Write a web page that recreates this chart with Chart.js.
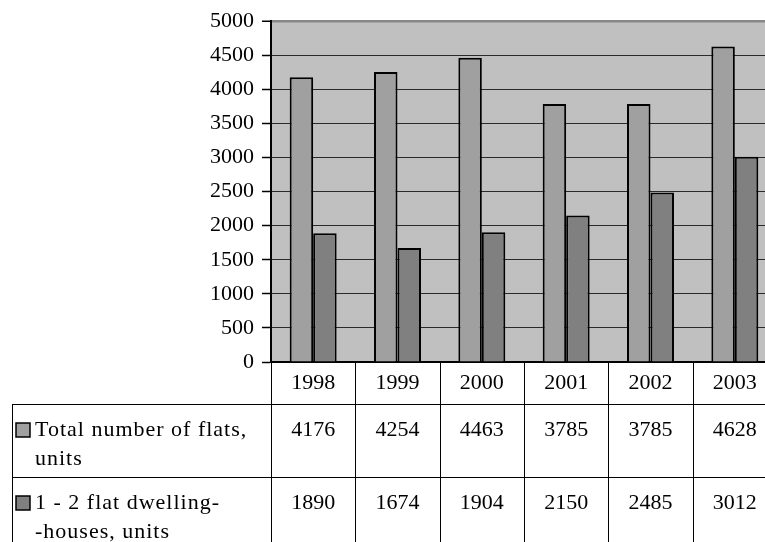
<!DOCTYPE html>
<html>
<head>
<meta charset="utf-8">
<script src="https://cdn.jsdelivr.net/npm/chart.js@4.4.0/dist/chart.umd.min.js"></script>
<style>
  body { margin: 0; background: #fff; overflow: hidden; }
  #wrap { width: 780px; height: 542px; }
</style>
</head>
<body>
<div id="wrap"><canvas id="chart" width="780" height="542"></canvas></div>
<script>
// data
const years = ['1998', '1999', '2000', '2001', '2002', '2003'];
const totalFlats = [4176, 4254, 4463, 3785, 3785, 4628];
const dwellingHouses = [1890, 1674, 1904, 2150, 2485, 3012];
const seriesNames = [['Total number of flats,', 'units'], ['1 - 2 flat dwelling-', '-houses, units']];
const yMax = 5000;
const yStep = 500;

const barColors = ['#a0a0a0', '#808080'];
const fontFamily = "'Liberation Serif', 'Times New Roman', serif";
const fontSize = 22;

// grey plot area
const plotBg = {
    id: 'plotBg',
    beforeDraw(chart) {
        const { ctx, chartArea: a } = chart;
        ctx.save();
        ctx.fillStyle = '#c0c0c0';
        ctx.fillRect(a.left, a.top, a.right - a.left, a.bottom - a.top);
        ctx.restore();
    }
};

// data table under the chart
const dataTable = {
    id: 'dataTable',
    afterDraw(chart) {
        const { ctx, chartArea: a } = chart;
        const n = years.length;
        const catW = (a.right - a.left) / n;
        const bottom = chart.height;
        const rowTop = 404;
        const rowH = 73;
        const leftX = 12;

        ctx.save();
        ctx.strokeStyle = '#000';
        ctx.lineWidth = 1;
        ctx.beginPath();
        // vertical lines between the columns
        for (let i = 0; i <= n; i++) {
            const x = Math.round(a.left + i * catW) + 0.5;
            ctx.moveTo(x, a.bottom);
            ctx.lineTo(x, bottom);
        }
        ctx.moveTo(leftX + 0.5, rowTop);
        ctx.lineTo(leftX + 0.5, bottom);
        for (let r = 0; r < seriesNames.length; r++) {
            const y = rowTop + r * rowH + 0.5;
            ctx.moveTo(leftX, y);
            ctx.lineTo(chart.width, y);
        }
        ctx.stroke();

        ctx.font = fontSize + 'px ' + fontFamily;
        ctx.fillStyle = '#000';
        ctx.textBaseline = 'alphabetic';
        const rows = [totalFlats, dwellingHouses];
        rows.forEach((vals, r) => {
            const top = rowTop + r * rowH;
            // legend key
            ctx.fillStyle = barColors[r];
            ctx.fillRect(16, top + 19, 14, 14);
            ctx.lineWidth = 1.5;
            ctx.strokeRect(16, top + 19, 14, 14);
            ctx.fillStyle = '#000';
            ctx.textAlign = 'left';
            ctx.letterSpacing = '1px';
            seriesNames[r].forEach((line, k) => {
                ctx.fillText(line, 35, top + 32 + k * 29);
            });
            ctx.letterSpacing = '0px';
            // values
            ctx.textAlign = 'center';
            vals.forEach((v, i) => {
                const x = chart.scales.x.getPixelForValue(i);
                ctx.fillText(String(v), x, top + 32);
            });
        });
        ctx.restore();
    }
};

new Chart(document.getElementById('chart'), {
    type: 'bar',
    data: {
        labels: years,
        datasets: [
            {
                label: seriesNames[0].join(' '),
                data: totalFlats,
                backgroundColor: barColors[0],
                borderColor: '#000',
                borderWidth: 2
            },
            {
                label: seriesNames[1].join(' '),
                data: dwellingHouses,
                backgroundColor: barColors[1],
                borderColor: '#000',
                borderWidth: 2
            }
        ]
    },
    options: {
        responsive: false,
        animation: false,
        categoryPercentage: 0.557,
        barPercentage: 1,
        layout: { padding: { top: 19, right: 3, left: 0, bottom: 0 } },
        plugins: {
            legend: { display: false },
            tooltip: { enabled: false }
        },
        scales: {
            x: {
                grid: { display: false, drawTicks: false },
                border: { color: '#000', width: 2 },
                ticks: {
                    color: '#000',
                    padding: 8,
                    font: { family: fontFamily, size: fontSize }
                },
                afterFit(scale) { scale.height = 180; }
            },
            y: {
                min: 0,
                max: yMax,
                ticks: {
                    stepSize: yStep,
                    color: '#000',
                    padding: 8,
                    font: { family: fontFamily, size: fontSize },
                    callback: value => String(value)
                },
                grid: {
                    color: c => (c.tick && c.tick.value === yMax) ? '#888' : '#2a2a2a',
                    lineWidth: c => (c.tick && c.tick.value === yMax) ? 2.5 : 1,
                    tickColor: '#000',
                    tickWidth: 1.5,
                    tickLength: 9
                },
                border: { color: '#000', width: 2 },
                afterFit(scale) { scale.width = 271; }
            }
        }
    },
    plugins: [plotBg, dataTable]
});
</script>
</body>
</html>
